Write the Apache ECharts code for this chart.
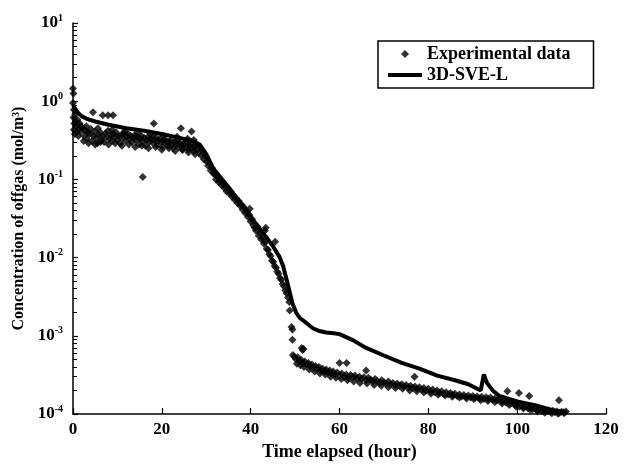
<!DOCTYPE html>
<html>
<head>
<meta charset="utf-8">
<script src="https://cdn.jsdelivr.net/npm/echarts@6/dist/echarts.min.js"></script>
<style>
  html, body { margin: 0; padding: 0; background: #fff; }
  #chart { width: 624px; height: 468px; }
</style>
</head>
<body>
<div id="chart"></div>
<script>
  // experimental offgas concentration (hour, mol/m3)
  var expTime = [
    0.0, 0.1, 0.0, 0.2, 0.1, 0.3, 0.2, 0.4, 0.5, 0.6, 0.7, 0.8, 1.0, 1.1, 1.3, 1.5, 1.7, 1.9,
    2.2, 2.5, 2.8, 3.1, 3.4, 3.7, 4.0, 4.3, 4.6, 4.9, 5.2, 5.5, 5.8, 6.1, 6.4, 6.7, 7.0, 7.3, 7.6, 7.9,
    8.2, 8.5, 8.8, 9.1, 9.4, 9.7, 10.0, 10.3, 10.6, 10.9, 11.2, 11.5, 11.8, 12.1, 12.4, 12.7, 13.0, 13.3,
    13.6, 13.9, 14.2, 14.5, 14.8, 15.1, 15.4, 15.7, 16.0, 16.3, 16.6, 16.9, 17.2, 17.5, 17.8, 18.1, 18.4,
    18.7, 19.0, 19.3, 19.6, 19.9, 20.2, 20.5, 20.8, 21.1, 21.4, 21.7, 22.0, 22.3, 22.6, 22.9, 23.2, 23.5,
    23.8, 24.1, 24.4, 24.7, 25.0, 25.3, 25.6, 25.9, 26.2, 26.5, 26.8, 27.1, 27.4, 27.7, 28.0,
    4.5, 6.7, 7.9, 9.0, 15.7, 18.2, 24.3, 26.7, 27.2,
    28.3, 28.6, 28.9, 29.2, 29.5, 29.8, 30.1, 30.4, 30.7, 31.0, 31.3, 31.6, 31.9, 32.2, 32.5, 32.8, 33.1,
    33.4, 33.7, 34.0, 34.3, 34.6, 34.9, 35.2, 35.5, 35.8, 36.1, 36.4, 36.7, 37.0, 37.3, 37.6, 37.9, 38.2,
    38.5, 38.8, 39.1, 39.4, 39.7, 40.0, 40.3, 40.6, 40.9, 41.2, 41.5, 41.8, 42.1, 42.4, 42.7, 43.0, 43.3,
    43.6, 43.9, 44.2, 44.5, 44.8, 45.1, 45.4, 45.7, 46.0, 46.3, 46.6, 46.9, 47.2, 47.5, 47.8, 48.1, 48.4, 48.7,
    45.5, 43.2, 39.8, 43.4,
    48.8, 49.2, 49.4, 49.4, 51.5, 51.9, 49.5,
    49.8, 50.2, 50.6, 51.0, 51.4, 51.8, 52.2, 52.6, 53.0, 53.4, 53.8, 54.2, 54.6, 55.0, 55.4, 55.8, 56.2,
    56.6, 57.0, 57.4, 57.8, 58.2, 58.6, 59.0, 59.5, 60.0, 60.5, 61.0, 61.5, 62.0, 62.5, 63.0, 63.5, 64.0,
    64.5, 65.0, 65.5, 66.0, 66.5, 67.0, 67.5, 68.0, 68.5, 69.0, 69.5, 70.0, 70.5, 71.0, 71.5, 72.0, 72.5,
    73.0, 73.5, 74.0, 74.5, 75.0, 75.5, 76.0, 76.5, 77.0, 77.5, 78.0, 78.5, 79.0, 79.5, 80.0, 80.5, 81.0,
    81.5, 82.0, 82.5, 83.0, 83.5, 84.0, 84.5, 85.0, 85.5, 86.0, 86.5, 87.0, 87.5, 88.0, 88.5, 89.0, 89.5,
    90.0, 90.5, 91.0, 91.5, 92.0, 92.5, 93.0, 93.5, 94.0, 94.5, 95.0, 95.5, 96.0, 96.5, 97.0, 97.5, 98.0,
    98.5, 99.0, 99.5, 100.0, 100.5, 101.0, 101.5, 102.0, 102.5, 103.0, 103.5, 104.0, 104.5, 105.0, 105.5,
    106.0, 106.5, 107.0, 107.5, 108.0, 108.5, 109.0, 109.5, 110.0, 110.5, 111.0,
    51.7, 60.0, 61.6, 66.0, 76.9, 97.8, 100.4, 102.7, 109.4,
    // second row of the scattered bands
    1.2, 2.4, 3.5, 5.0, 6.2, 8.0, 9.5, 11.0, 12.6, 14.0, 15.5, 17.0, 18.6, 20.0, 21.6, 23.0, 24.6, 26.0, 27.5,
    3.0, 5.6, 8.8, 11.6, 14.6, 17.4, 20.4, 23.4, 25.8,
    50.4, 51.2, 52.0, 53.2, 54.4, 55.6, 56.8, 58.0, 59.2, 60.4, 61.8, 63.2, 64.6, 66.2, 67.8, 69.4, 71.0,
    72.6, 74.2, 75.8, 77.4, 79.0, 80.6, 82.2, 83.8, 85.4, 87.0, 88.6, 90.2, 91.8, 93.4, 95.0, 96.6, 98.2,
    99.8, 101.4, 103.0, 104.6, 106.2, 107.8, 109.2, 110.6
  ];
  var expConc = [
    1.45, 1.25, 0.95, 0.78, 0.62, 0.52, 0.43, 0.38, 0.68, 0.55, 0.47, 0.40, 0.58, 0.50, 0.44, 0.52, 0.41, 0.47,
    0.45, 0.36, 0.42, 0.33, 0.40, 0.38, 0.44, 0.31, 0.36, 0.41, 0.34, 0.29, 0.37, 0.40, 0.32, 0.36, 0.30, 0.39, 0.35, 0.42,
    0.33, 0.37, 0.31, 0.38, 0.35, 0.40, 0.32, 0.36, 0.29, 0.37, 0.34, 0.39, 0.31, 0.35, 0.38, 0.33, 0.36, 0.30,
    0.34, 0.37, 0.32, 0.35, 0.28, 0.33, 0.36, 0.31, 0.34, 0.27, 0.32, 0.35, 0.30, 0.33, 0.36, 0.29, 0.32,
    0.34, 0.27, 0.31, 0.33, 0.30, 0.26, 0.32, 0.29, 0.31, 0.27, 0.30, 0.32, 0.28, 0.25, 0.30, 0.28, 0.31,
    0.26, 0.29, 0.27, 0.24, 0.28, 0.30, 0.26, 0.24, 0.27, 0.29, 0.25, 0.23, 0.26, 0.28, 0.24,
    0.72, 0.66, 0.66, 0.66, 0.107, 0.52, 0.45, 0.41, 0.32,
    0.22, 0.26, 0.20, 0.23, 0.18, 0.20, 0.17, 0.15, 0.16, 0.13, 0.14, 0.12, 0.115, 0.10, 0.11, 0.092, 0.097,
    0.085, 0.088, 0.078, 0.082, 0.070, 0.074, 0.066, 0.070, 0.060, 0.063, 0.055, 0.058, 0.050, 0.053, 0.046, 0.048, 0.041,
    0.044, 0.037, 0.039, 0.033, 0.035, 0.029, 0.031, 0.026, 0.024, 0.022, 0.025, 0.019, 0.021, 0.017, 0.018, 0.015, 0.016,
    0.013, 0.0125, 0.011, 0.0105, 0.0092, 0.0088, 0.0078, 0.0074, 0.0066, 0.0062, 0.0055, 0.0052, 0.0046, 0.0043, 0.0038, 0.0035, 0.0031, 0.0027,
    0.016, 0.022, 0.042, 0.024,
    0.0021, 0.0013, 0.0012, 0.00089, 0.0007, 0.00068, 0.00057,
    5.4e-4, 5.0e-4, 5.3e-4, 4.8e-4, 4.9e-4, 4.5e-4, 4.7e-4, 4.3e-4, 4.5e-4, 4.1e-4, 4.3e-4, 3.9e-4, 4.1e-4, 3.8e-4, 4.0e-4, 3.6e-4, 3.8e-4,
    3.5e-4, 3.7e-4, 3.4e-4, 3.6e-4, 3.3e-4, 3.5e-4, 3.2e-4, 3.4e-4, 3.1e-4, 3.3e-4, 3.0e-4, 3.2e-4, 2.9e-4, 3.15e-4, 2.95e-4, 3.1e-4, 2.85e-4,
    3.0e-4, 2.8e-4, 2.95e-4, 2.7e-4, 2.9e-4, 2.75e-4, 2.6e-4, 2.8e-4, 2.65e-4, 2.5e-4, 2.7e-4, 2.55e-4, 2.45e-4, 2.6e-4, 2.4e-4, 2.5e-4, 2.35e-4,
    2.45e-4, 2.3e-4, 2.4e-4, 2.25e-4, 2.35e-4, 2.2e-4, 2.3e-4, 2.15e-4, 2.25e-4, 2.1e-4, 2.2e-4, 2.05e-4, 2.15e-4, 2.0e-4, 2.1e-4, 1.95e-4, 2.05e-4,
    1.9e-4, 2.0e-4, 1.85e-4, 1.95e-4, 1.8e-4, 1.9e-4, 1.78e-4, 1.85e-4, 1.75e-4, 1.82e-4, 1.7e-4, 1.78e-4, 1.68e-4, 1.75e-4, 1.65e-4, 1.72e-4, 1.62e-4,
    1.7e-4, 1.6e-4, 1.68e-4, 1.58e-4, 1.66e-4, 1.56e-4, 1.64e-4, 1.55e-4, 1.62e-4, 1.52e-4, 1.58e-4, 1.5e-4, 1.55e-4, 1.45e-4, 1.5e-4, 1.4e-4, 1.45e-4,
    1.35e-4, 1.42e-4, 1.3e-4, 1.36e-4, 1.25e-4, 1.3e-4, 1.22e-4, 1.27e-4, 1.18e-4, 1.22e-4, 1.15e-4, 1.2e-4, 1.12e-4, 1.17e-4, 1.1e-4,
    1.14e-4, 1.08e-4, 1.12e-4, 1.06e-4, 1.1e-4, 1.05e-4, 1.08e-4, 1.04e-4, 1.07e-4, 1.05e-4, 1.08e-4,
    6.6e-4, 4.5e-4, 4.5e-4, 3.6e-4, 3.0e-4, 1.96e-4, 1.86e-4, 1.7e-4, 1.5e-4,
    0.36, 0.31, 0.29, 0.28, 0.30, 0.28, 0.29, 0.27, 0.28, 0.26, 0.27, 0.25, 0.26, 0.24, 0.25, 0.23, 0.24, 0.22, 0.21,
    0.48, 0.45, 0.43, 0.41, 0.39, 0.38, 0.36, 0.35, 0.33,
    4.4e-4, 4.2e-4, 4.0e-4, 3.7e-4, 3.5e-4, 3.3e-4, 3.2e-4, 3.0e-4, 2.9e-4, 2.8e-4, 2.7e-4, 2.6e-4, 2.5e-4, 2.45e-4, 2.35e-4, 2.3e-4, 2.2e-4,
    2.15e-4, 2.1e-4, 2.0e-4, 1.95e-4, 1.88e-4, 1.82e-4, 1.76e-4, 1.72e-4, 1.66e-4, 1.62e-4, 1.58e-4, 1.55e-4, 1.5e-4, 1.47e-4, 1.42e-4, 1.36e-4, 1.3e-4,
    1.24e-4, 1.18e-4, 1.13e-4, 1.08e-4, 1.04e-4, 1.02e-4, 1.01e-4, 1.02e-4
  ];

  // 3D-SVE-L model curve
  var modelTime = [
    0, 0.5, 1, 2, 3, 5, 8, 12, 16, 20, 24, 27, 28.5, 30, 31.5, 33, 35, 37, 39, 41, 43.6, 45, 46.5, 47.3, 48,
    48.8, 49.4, 50.2, 51, 52.6, 54, 55.5, 57, 58.7, 60, 63, 66, 70, 74, 78, 82, 86, 89, 91.8, 92.5, 93.2, 94.5, 96,
    100, 104, 108, 111
  ];
  var modelConc = [
    0.9, 0.8, 0.72, 0.64, 0.6, 0.55, 0.5, 0.45, 0.42, 0.38, 0.34, 0.31, 0.28, 0.21, 0.14, 0.11, 0.08, 0.056, 0.04, 0.028, 0.018, 0.014, 0.0102, 0.0078, 0.0055,
    0.0036, 0.0026, 0.002, 0.0017, 0.00145, 0.00125, 0.00115, 0.0011, 0.00108, 0.00105, 0.00088, 0.0007, 0.00056, 0.00045, 0.00038, 0.00031, 0.00027, 0.00024, 0.0002, 0.00032, 0.00025, 0.0002, 0.00017,
    0.000145, 0.00013, 0.000112, 0.000105
  ];

  var xTicks = [0, 20, 40, 60, 80, 100, 120];

  var fontFam = '"Liberation Serif", "DejaVu Serif", serif';

  var expData = expTime.map(function (t, i) { return [t, expConc[i]]; });
  var modelData = modelTime.map(function (t, i) { return [t, modelConc[i]]; });

  var chart = echarts.init(document.getElementById('chart'));
  chart.setOption({
    animation: false,
    backgroundColor: '#fff',
    textStyle: { fontFamily: fontFam },
    grid: { left: 73, right: 18, top: 23, bottom: 54 },
    legend: {
      orient: 'vertical',
      left: 378,
      top: 41,
      padding: [4, 23, 4, 10],
      itemGap: 3,
      itemWidth: 34,
      itemHeight: 8,
      borderColor: '#000',
      borderWidth: 1.5,
      borderRadius: 0,
      backgroundColor: '#fff',
      textStyle: { fontFamily: fontFam, fontWeight: 'bold', fontSize: 18, color: '#000' },
      data: [
        { name: 'Experimental data', icon: 'path://M5,0 L10,5 L5,10 L0,5 Z', itemStyle: { color: '#000' } },
        { name: '3D-SVE-L', icon: 'path://M0,0 L34,0 L34,4 L0,4 Z', itemStyle: { color: '#000' } }
      ]
    },
    xAxis: {
      type: 'value',
      min: 0,
      max: 120,
      interval: 20,
      name: 'Time elapsed (hour)',
      nameLocation: 'middle',
      nameGap: 29,
      nameTextStyle: { fontFamily: fontFam, fontWeight: 'bold', fontSize: 18, color: '#000' },
      axisLine: { show: true, lineStyle: { color: '#000', width: 1.5 } },
      axisTick: { show: true, inside: true, length: 6, lineStyle: { color: '#000', width: 1.2 } },
      axisLabel: {
        margin: 7, fontFamily: fontFam, fontWeight: 'bold', fontSize: 17, color: '#000',
        formatter: function (v) { return xTicks.indexOf(v) >= 0 ? String(v) : ''; }
      },
      splitLine: { show: false }
    },
    yAxis: {
      type: 'log',
      logBase: 10,
      min: 1e-4,
      max: 10,
      name: 'Concentration of offgas (mol/m\u00b3)',
      nameLocation: 'middle',
      nameGap: 37,
      nameTextStyle: { fontFamily: fontFam, fontWeight: 'bold', fontSize: 16, color: '#000' },
      axisLine: { show: true, lineStyle: { color: '#000', width: 1.5 } },
      axisTick: { show: true, inside: true, length: 5, lineStyle: { color: '#000', width: 1.2 } },
      minorTick: { show: true, splitNumber: 9, length: 4, lineStyle: { color: '#000', width: 1 } },
      axisLabel: {
        margin: 10,
        color: '#000',
        formatter: function (v) {
          var e = Math.round(Math.log(v) / Math.LN10);
          return '{b|10}{s|' + e + '}';
        },
        rich: {
          b: { fontFamily: fontFam, fontWeight: 'bold', fontSize: 17, color: '#000' },
          s: { fontFamily: fontFam, fontWeight: 'bold', fontSize: 10, color: '#000', padding: [0, 0, 10, 0] }
        }
      },
      splitLine: { show: false }
    },
    series: [
      {
        name: 'Experimental data',
        type: 'scatter',
        symbol: 'diamond',
        symbolSize: 8,
        itemStyle: { color: '#000' },
        data: expData,
        z: 3
      },
      {
        name: '3D-SVE-L',
        type: 'line',
        showSymbol: false,
        symbol: 'none',
        lineStyle: { color: '#000', width: 4 },
        itemStyle: { color: '#000' },
        data: modelData,
        z: 2
      }
    ]
  });
</script>
</body>
</html>
